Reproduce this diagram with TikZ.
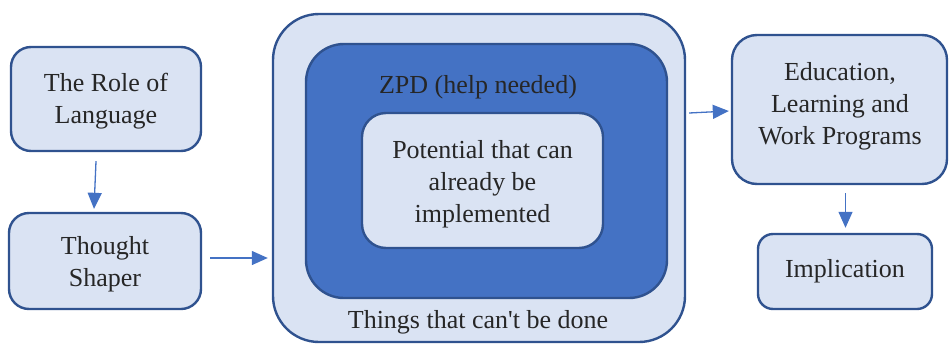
\documentclass[tikz,border=0pt]{standalone}
\usepackage{fontspec}
\setmainfont{Liberation Serif}
\usetikzlibrary{arrows.meta}
\definecolor{lightfill}{HTML}{DAE3F3}
\definecolor{edgeblue}{HTML}{2F528F}
\definecolor{midblue}{HTML}{4472C4}
\begin{document}
\begin{tikzpicture}[x=1pt,y=-1pt,
  box/.style={draw=edgeblue,fill=lightfill,line width=2.4pt,inner sep=0pt,align=center,
    font=\fontsize{26}{32}\selectfont,text=black!85},
  conn/.style={draw=midblue,line width=1.3pt,-{Triangle[length=16pt,width=14pt]}},
  lbl/.style={font=\fontsize{26}{32}\selectfont,inner sep=0pt,align=center,text=black!85}]
\useasboundingbox (0,0) rectangle (949,343);
% left column
\node[box,rounded corners=20pt,minimum width=190pt,minimum height=104pt] (role) at (106,99) {};
\node[lbl] (rolelbl) at (106,101.5) {The Role of\\Language};
\node[box,rounded corners=20pt,minimum width=192pt,minimum height=96pt] (thought) at (105,261) {};
\node[lbl] (thoughtlbl) at (105,264) {Thought\\Shaper};
% nested boxes
\node[box,rounded corners=46pt,minimum width=412pt,minimum height=328pt] (outer) at (479,178) {};
\node[box,fill=midblue,rounded corners=38pt,minimum width=361pt,minimum height=254pt] (zpd) at (486.5,171) {};
\node[box,rounded corners=24pt,minimum width=241pt,minimum height=135pt] (inner) at (482.5,180.5) {};
\node[lbl] (innerlbl) at (482.5,184) {Potential that can\\already be\\implemented};
\node[lbl] (zpdlbl) at (478,87.5) {ZPD (help needed)};
\node[lbl] (things) at (478,322) {Things that can\textquotesingle t be done};
% right column
\node[box,rounded corners=25pt,minimum width=215pt,minimum height=149pt] (edu) at (839.5,109.5) {};
\node[lbl] (edulbl) at (840,106) {Education,\\Learning and\\Work Programs};
\node[box,rounded corners=15pt,minimum width=174pt,minimum height=75pt] (impl) at (845,271.5) {Implication};
% connectors
\draw[conn] ([xshift=-10pt,yshift=-9pt]role.south) -- ([xshift=-11pt,yshift=3pt]thought.north);
\draw[conn] ([xshift=8pt,yshift=3pt]thought.east) -- ([xshift=-4pt,yshift=-80pt]outer.west);
\draw[conn] ([xshift=3pt,yshift=65pt]outer.east) -- ([xshift=-2pt,yshift=-1.5pt]edu.west);
\draw[conn] ([xshift=6pt,yshift=-8pt]edu.south) -- ([xshift=0.5pt,yshift=5pt]impl.north);
\end{tikzpicture}
\end{document}
